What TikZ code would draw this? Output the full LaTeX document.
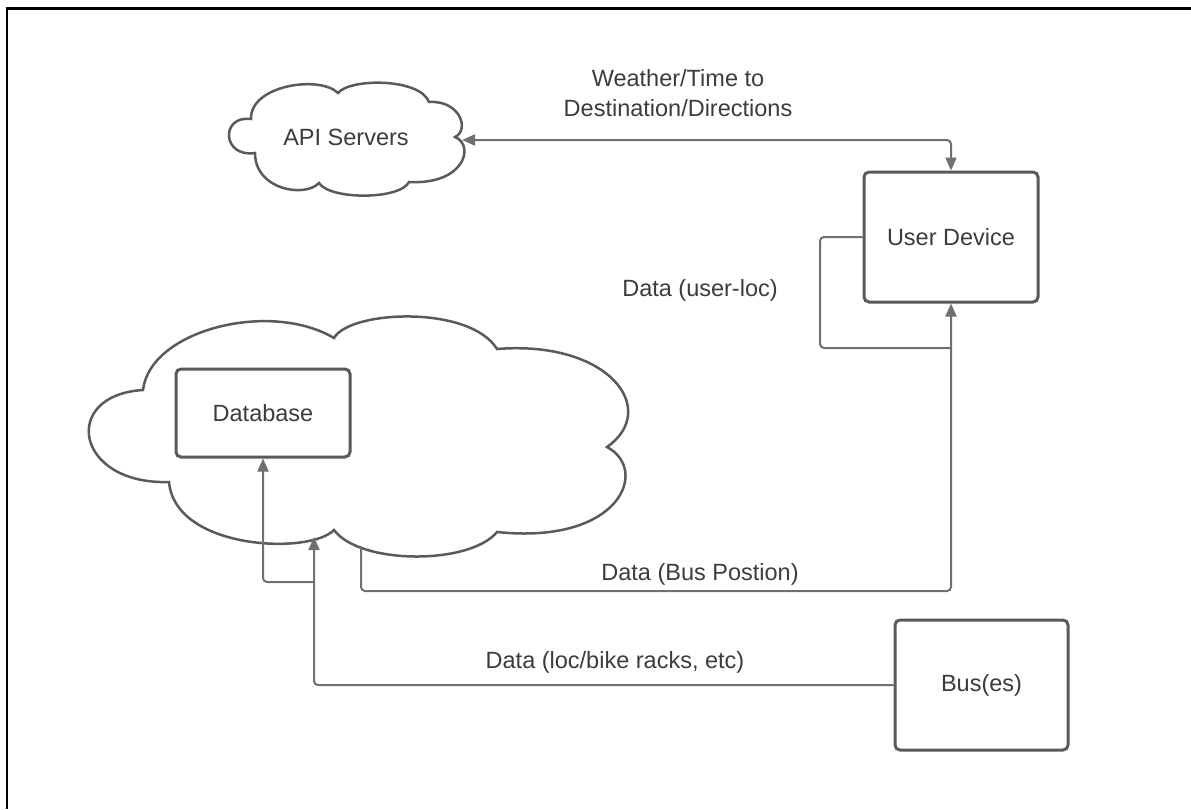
\documentclass[tikz,border=0pt]{standalone}
\usepackage{fontspec}
\setmainfont{Liberation Sans}
\usetikzlibrary{arrows.meta}
\definecolor{txt}{HTML}{3C3C3C}
\definecolor{ln}{HTML}{707070}
\definecolor{bx}{HTML}{5A5A5A}
\begin{document}
\begin{tikzpicture}[x=1pt,y=-1pt,
  lbl/.style={font=\fontsize{23.5}{30}\selectfont, text=txt, inner sep=0pt, align=center},
  boxnode/.style={draw=bx, line width=3pt, rounded corners=5pt, fill=white, font=\fontsize{23.5}{30}\selectfont, text=txt},
  cloudline/.style={draw=bx, line width=2.5pt, fill=white},
  conn/.style={draw=ln, line width=2pt, rounded corners=4pt},
  tip/.style={-{Triangle[width=11pt,length=13pt]}},
  frame/.style={draw=black, line width=2.5pt}]
\useasboundingbox (0,0) rectangle (1191,809);
% frame
\draw[frame] (7,809) -- (7,8.5) -- (1191,8.5);

% API Servers cloud
\draw[cloudline] (255,153) .. controls (222,158) and (220,115) .. (251,119)
  .. controls (250,85) and (320,75) .. (338,93)
  .. controls (350,78) and (420,78) .. (429,102)
  .. controls (460,100) and (470,130) .. (455,137)
  .. controls (475,145) and (465,185) .. (409,182)
  .. controls (400,200) and (330,200) .. (319,183)
  .. controls (305,198) and (255,190) .. (255,153) -- cycle;
\node[lbl] (api) at (346,137) {API Servers};
\coordinate (apiE) at (462,140);

% Big cloud
\draw[cloudline] (143,390) .. controls (150,330) and (270,300) .. (334,338)
  .. controls (350,310) and (470,305) .. (497,349)
  .. controls (610,340) and (660,410) .. (607,447)
  .. controls (650,470) and (620,545) .. (497,532)
  .. controls (470,565) and (360,565) .. (334,530)
  .. controls (310,555) and (175,550) .. (169,482)
  .. controls (75,485) and (60,395) .. (143,390) -- cycle;
\coordinate (cloudBL) at (314,537);
\coordinate (cloudB) at (361,546);

% boxes
\node[boxnode, minimum width=174pt, minimum height=130pt] (ud) at (951,237) {User Device};
\node[boxnode, minimum width=174pt, minimum height=88pt] (db) at (263,413) {Database};
\node[boxnode, minimum width=173pt, minimum height=130pt] (bus) at (981.5,685) {Bus(es)};

% connectors
\draw[conn, {Triangle[width=11pt,length=13pt]}-{Triangle[width=11pt,length=13pt]}] (apiE) -| (ud.north);
\coordinate (udW) at (ud.west |- 0,237);
\coordinate (loopBR) at (ud.south |- 0,348);
\draw[conn] (udW) -- (820,237) -- (820,348) -- (loopBR);
\coordinate (bpCorner) at (ud.south |- 0,591);
\draw[conn, tip] (cloudB) |- (bpCorner) -- (ud.south);
\draw[conn, tip] (bus.west) -| (cloudBL);
\coordinate (branch) at (314,582);
\draw[conn, tip] (branch) -| (db.south);

% labels
\node[lbl] (wlabel) at (678,93) {Weather/Time to\\Destination/Directions};
\node[lbl] (ulabel) at (700,290) {Data (user-loc)};
\node[lbl] (bplabel) at (700,574) {Data (Bus Postion)};
\node[lbl] (blabel) at (615,662) {Data (loc/bike racks, etc)};
\end{tikzpicture}
\end{document}
